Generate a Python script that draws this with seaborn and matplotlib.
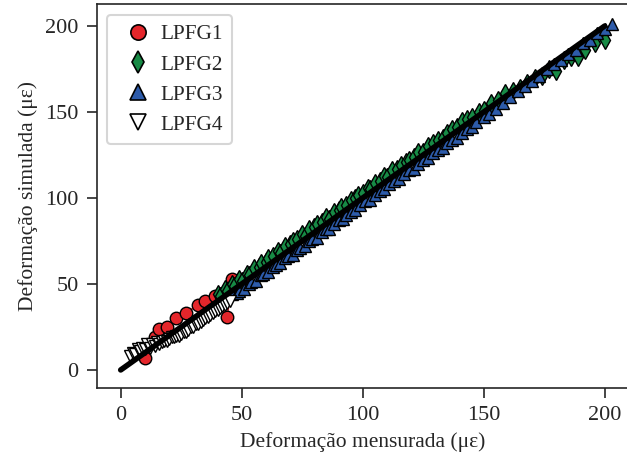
import matplotlib
matplotlib.use("Agg")
import matplotlib.pyplot as plt
import seaborn as sns
import pandas as pd
from matplotlib.lines import Line2D

sns.set_style("ticks")
plt.rcParams['font.family'] = ['Liberation Serif', 'DejaVu Serif']

series_names = ["LPFG1", "LPFG2", "LPFG3", "LPFG4"]

lpfg1_x = [10, 14, 16, 19, 23, 27, 32, 35, 39, 44, 46]
lpfg1_y = [7, 19, 24, 25, 30, 33, 38, 40, 43, 31, 53]

lpfg2_x = [40, 41, 43, 44, 46, 47, 49, 50, 52, 53, 55, 57, 58, 60, 61, 63, 65, 66, 68, 70,
           71, 73, 75, 76, 78, 80, 81, 83, 85, 86, 88, 90, 91, 93, 95, 97, 98, 100, 102, 103,
           105, 107, 109, 110, 112, 114, 116, 118, 119, 121, 123, 125, 127, 129, 131, 133,
           135, 137, 139, 141, 143, 145, 148, 150, 153, 156, 159, 162, 165, 168, 171, 174,
           177, 180, 183, 186, 189, 192, 196, 200]
lpfg2_y = [44, 43, 47, 46, 50, 49, 53, 52, 56, 55, 59, 60, 62, 63, 65, 66, 69, 68, 72, 73,
           75, 76, 79, 78, 82, 83, 85, 86, 89, 88, 92, 93, 95, 96, 99, 100, 102, 103, 106, 105,
           109, 110, 113, 112, 116, 117, 119, 121, 122, 124, 127, 127, 130, 132, 134, 135,
           138, 140, 141, 145, 146, 147, 150, 151, 155, 157, 161, 162, 164, 167, 170, 171,
           175, 174, 180, 182, 182, 186, 190, 192]

lpfg3_x = [46, 48, 49, 51, 53, 54, 56, 58, 59, 61, 63, 64, 66, 68, 69, 71, 73, 74, 76, 78,
           79, 81, 83, 85, 86, 88, 90, 92, 93, 95, 97, 99, 101, 103, 105, 107, 109, 111, 113,
           115, 117, 119, 121, 123, 125, 127, 129, 131, 133, 135, 137, 139, 141, 143, 145,
           147, 150, 152, 155, 158, 161, 164, 167, 170, 173, 176, 179, 182, 185, 188, 191,
           194, 197, 200, 203]
lpfg3_y = [44, 45, 46, 47, 50, 51, 52, 55, 56, 57, 60, 61, 62, 65, 66, 67, 70, 71, 72, 75,
           76, 77, 80, 82, 82, 85, 87, 88, 90, 92, 93, 96, 98, 99, 102, 104, 105, 108, 110,
           111, 114, 116, 117, 120, 122, 123, 126, 128, 129, 132, 134, 135, 138, 140, 141,
           144, 147, 149, 152, 155, 159, 162, 165, 168, 171, 175, 178, 180, 184, 186, 190,
           192, 196, 198, 201]

lpfg4_x = [4, 5, 6, 7, 8, 9, 10, 11, 12, 13, 14, 15, 16, 17, 18, 19, 20, 21, 22, 23, 24, 25,
           26, 27, 28, 29, 30, 31, 32, 33, 34, 35, 36, 37, 38, 39, 40, 41, 42, 43, 44, 45]
lpfg4_y = [8, 10, 9, 12, 11, 13, 12, 15, 13, 15, 14, 16, 15, 16, 17, 17, 18, 19, 19, 20, 20,
           21, 22, 22, 23, 25, 25, 27, 27, 28, 29, 30, 31, 32, 33, 34, 35, 36, 37, 38, 39, 40]

ref_x = [0, 200]
ref_y = [0, 200]

x_ticks = [0, 50, 100, 150, 200]
y_ticks = [0, 50, 100, 150, 200]

colors = ["#E4262B", "#178A45", "#2D5BAA", "white"]
line_colors = ["#E4262B", "#178A45", "#2D5BAA", "black"]
markers = ["o", "d", "^", "v"]

data = [(lpfg1_x, lpfg1_y), (lpfg2_x, lpfg2_y), (lpfg3_x, lpfg3_y), (lpfg4_x, lpfg4_y)]

fig = plt.figure(figsize=(6.27, 4.59), dpi=100)
ax = fig.add_axes([96.5 / 627, (459 - 388) / 459, 532.4 / 627, 384 / 459])

for (xs, ys), c, lc, m in zip(data, colors, line_colors, markers):
    df = pd.DataFrame({"x": xs, "y": ys})
    sns.lineplot(data=df, x="x", y="y", ax=ax, estimator=None, sort=True,
                 color=lc, linewidth=1.3, marker=m, markersize=9,
                 markerfacecolor=c, markeredgecolor="black", markeredgewidth=1.0,
                 zorder=3)

sns.lineplot(x=ref_x, y=ref_y, ax=ax, color="black", linewidth=4, zorder=4)

ax.set_xlim(-10, 210)
ax.set_ylim(-10.5, 212.8)
ax.set_xticks(x_ticks)
ax.set_yticks(y_ticks)
ax.tick_params(labelsize=16, length=7, width=1.2, pad=6, direction="out")
for s in ax.spines.values():
    s.set_linewidth(1.2)
ax.set_xlabel("Deformação mensurada (με)", fontsize=15.5, labelpad=5)
ax.set_ylabel("Deformação simulada (με)", fontsize=15.5, labelpad=5)

handles = [Line2D([], [], linestyle="none", marker=m, markersize=11,
                  markerfacecolor=c, markeredgecolor="black", markeredgewidth=1.2)
           for c, m in zip(colors, markers)]
leg = ax.legend(handles, series_names, loc="upper left", fontsize=15.3,
                frameon=True, fancybox=True, edgecolor="#cccccc",
                borderpad=0.45, labelspacing=0.48, handletextpad=0.05,
                handlelength=2.0, borderaxespad=0,
                bbox_to_anchor=(10.5 / 532.4, 1 - 11 / 384))
leg.get_frame().set_linewidth(1.5)

fig.savefig("out.png", dpi=100)
